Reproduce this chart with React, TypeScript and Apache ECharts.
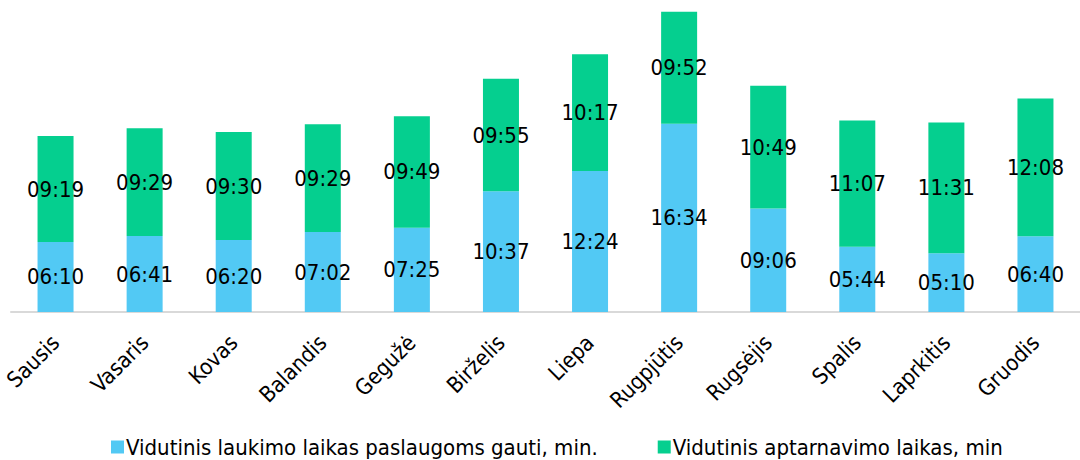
import React, { useEffect, useRef } from "react";
import * as echarts from "echarts";

const months = ["Sausis", "Vasaris", "Kovas", "Balandis", "Gegužė", "Birželis", "Liepa", "Rugpjūtis", "Rugsėjis", "Spalis", "Laprkitis", "Gruodis"];
const waitTimes = ["06:10", "06:41", "06:20", "07:02", "07:25", "10:37", "12:24", "16:34", "09:06", "05:44", "05:10", "06:40"];
const serviceTimes = ["09:19", "09:29", "09:30", "09:29", "09:49", "09:55", "10:17", "09:52", "10:49", "11:07", "11:31", "12:08"];
const seriesNames = ["Vidutinis laukimo laikas paslaugoms gauti, min.", "Vidutinis aptarnavimo laikas, min"];

const toSec = (s: string) => {
  const [m, sec] = s.split(":").map(Number);
  return m * 60 + sec;
};
const fmt = (v: number) => {
  const m = Math.floor(v / 60);
  const s = Math.round(v % 60);
  return `${String(m).padStart(2, "0")}:${String(s).padStart(2, "0")}`;
};

const FONT = "'DejaVu Sans Condensed', 'Noto Sans', sans-serif";

export default function App() {
  const ref = useRef<HTMLDivElement>(null);
  useEffect(() => {
    document.body.style.margin = "0";
    if (!ref.current) return;
    const chart = echarts.init(ref.current, null, { renderer: "svg" });
    const labelStyle = {
      show: true,
      position: "inside" as const,
      color: "#000",
      fontSize: 22,
      fontFamily: FONT,
      formatter: (p: any) => fmt(p.value),
    };
    chart.setOption({
      animation: false,
      textStyle: { fontFamily: FONT },
      grid: { left: 11, width: 1082, top: 9, bottom: 148, containLabel: false },
      legend: {
        left: 106,
        top: 431,
        itemWidth: 13,
        itemHeight: 13,
        itemGap: 60,
        icon: "rect",
        textStyle: { fontSize: 22, color: "#000", fontFamily: FONT, padding: [0, 0, 0, -3] },
        data: seriesNames,
      },
      xAxis: {
        type: "category",
        data: months,
        axisLine: { lineStyle: { color: "#D9D9D9", width: 2 } },
        axisTick: { show: false },
        axisLabel: { rotate: 45, fontSize: 22, color: "#000", fontFamily: FONT, margin: 27, interval: 0 },
      },
      yAxis: {
        type: "value",
        min: 0,
        max: 1600,
        show: false,
        splitLine: { show: false },
      },
      series: [
        {
          name: seriesNames[0],
          type: "bar",
          stack: "total",
          barWidth: 36,
          itemStyle: { color: "#52C9F4" },
          label: labelStyle,
          data: waitTimes.map(toSec),
        },
        {
          name: seriesNames[1],
          type: "bar",
          stack: "total",
          barWidth: 36,
          itemStyle: { color: "#05CF8F" },
          label: labelStyle,
          data: serviceTimes.map(toSec),
        },
      ],
    });
    return () => chart.dispose();
  }, []);
  return <div ref={ref} style={{ width: 1080, height: 460 }} />;
}
